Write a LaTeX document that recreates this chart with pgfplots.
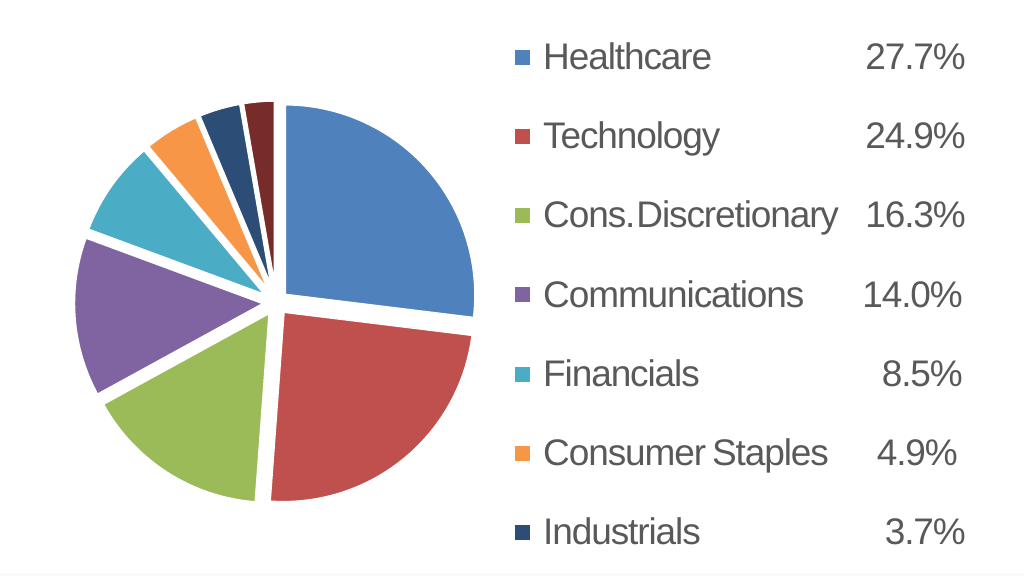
\documentclass[border=0pt]{standalone}
\usepackage{pgfplots}
\pgfplotsset{compat=1.18}
\usepackage{pgfplotstable}
\usepackage{fontspec}
\setmainfont{Liberation Sans}[LetterSpace=-3]
\definecolor{c1}{HTML}{4F81BD}
\definecolor{c2}{HTML}{C0504D}
\definecolor{c3}{HTML}{9BBB59}
\definecolor{c4}{HTML}{8064A2}
\definecolor{c5}{HTML}{4BACC6}
\definecolor{c6}{HTML}{F79646}
\definecolor{c7}{HTML}{2C4D75}
\definecolor{c8}{HTML}{772C2A}
\definecolor{txt}{HTML}{595959}
\pgfplotstableread{
value color
27.7 c1
24.9 c2
16.3 c3
14.0 c4
8.5 c5
4.9 c6
3.7 c7
2.8 c8
}\piedata
\begin{document}
\begin{tikzpicture}
\begin{axis}[
  width=1024pt, height=576pt, scale only axis,
  xmin=0, xmax=1024, ymin=0, ymax=576,
  hide axis, clip=false,
]
\path (axis cs:0,0) rectangle (axis cs:1024,576);
\fill[gray!5] (axis cs:0,0) rectangle (axis cs:1024,3);
% total
\def\total{0}
\pgfplotsforeachungrouped \i in {0,...,7}{%
  \pgfplotstablegetelem{\i}{value}\of\piedata
  \pgfmathsetmacro\total{\total+\pgfplotsretval}%
}
\pgfmathsetmacro\degper{360/\total}
\def\cum{0}
\pgfplotsforeachungrouped \i in {0,...,7}{%
  \pgfplotstablegetelem{\i}{value}\of\piedata
  \pgfmathsetmacro\aStart{90-\degper*\cum}%
  \pgfmathsetmacro\cumnew{\cum+\pgfplotsretval}%
  \pgfmathsetmacro\aEnd{90-\degper*\cumnew}%
  \pgfmathsetmacro\aMid{(\aStart+\aEnd)/2}%
  \pgfmathsetmacro\px{276.1+11.4*cos(\aMid)}%
  \pgfmathsetmacro\py{273.4+11.4*sin(\aMid)}%
  \pgfplotstablegetelem{\i}{color}\of\piedata
  \let\col\pgfplotsretval
  \edef\temp{\noexpand\addplot[fill=\col, draw=white, line width=3pt, line join=round, domain=\aEnd:\aStart, samples=100, variable=\noexpand\t] ({\px+191*cos(\noexpand\t)},{\py+191*sin(\noexpand\t)}) -- (axis cs:\px,\py) -- cycle;}%
  \temp
  \let\cum\cumnew
}
% legend
\def\legitem#1#2#3#4#5{%
  \fill[#1] (axis cs:515,{576-#2+4.5}) rectangle (axis cs:530,{576-#2+19.5});
  \node[anchor=base west, inner sep=0pt, text=txt, font=\fontsize{37}{44}\selectfont] at (axis cs:543,{576-#2}) {#3};
  \node[anchor=base east, inner sep=0pt, text=txt, font=\fontsize{37}{44}\selectfont] at (axis cs:#5,{576-#2}) {#4};
}
\legitem{c1}{69.3}{Healthcare}{27.7\%}{966}
\legitem{c2}{148.5}{Technology}{24.9\%}{966}
\legitem{c3}{227.8}{Cons.\kern1pt Discretionary}{16.3\%}{966}
\legitem{c4}{307}{Communications}{14.0\%}{963}
\legitem{c5}{386.3}{Financials}{8.5\%}{963}
\legitem{c6}{465.5}{Consumer\hspace{6pt}Staples}{4.9\%}{958}
\legitem{c7}{544.8}{Industrials}{3.7\%}{966}
\end{axis}
\end{tikzpicture}
\end{document}
